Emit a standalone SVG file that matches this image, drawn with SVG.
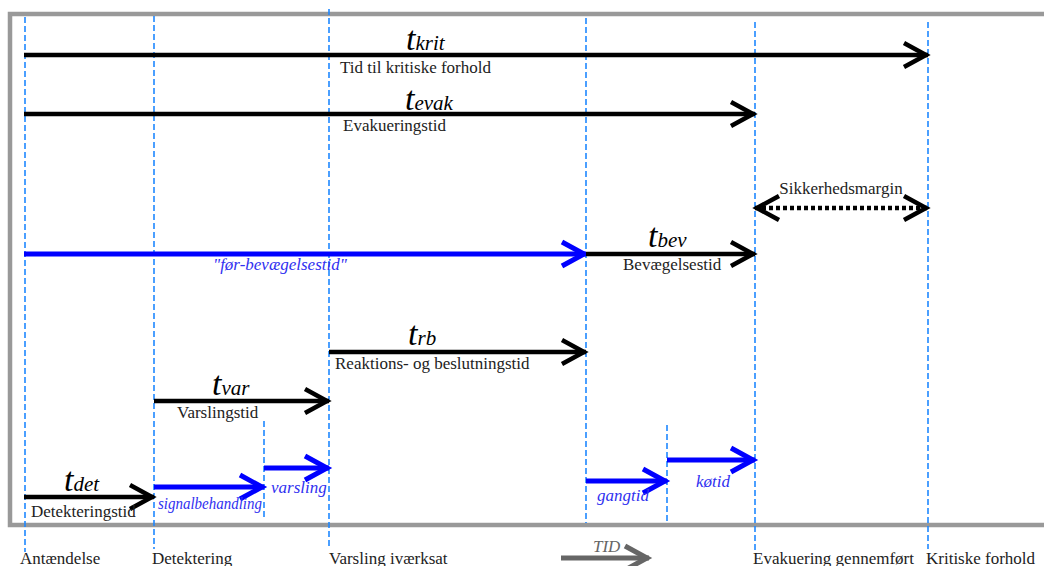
<svg xmlns="http://www.w3.org/2000/svg" width="1044" height="566" viewBox="0 0 1044 566">
<style>
.frame{fill:none;stroke:#999;stroke-width:4.5}
.vl{stroke:#1e88ff;stroke-width:1.6;stroke-dasharray:6 3;fill:none}
.blk{stroke:#000;stroke-width:4.5;fill:none;marker-end:url(#hk)}
.blu{stroke:#0000ff;stroke-width:5;fill:none;marker-end:url(#hb)}
.gry{stroke:#666;stroke-width:5;fill:none;marker-end:url(#hg)}
.dot{stroke:#000;stroke-width:4.5;stroke-dasharray:4 3;fill:none;marker-end:url(#hk);marker-start:url(#hk)}
.lbl{font-family:"Liberation Serif",serif;font-size:17px;fill:#222}
.big{font-family:"Liberation Serif",serif;font-style:italic;font-size:34px;fill:#000}
.sub{font-size:21px}
.bl{font-family:"Liberation Serif",serif;font-style:italic;font-size:17px;fill:#3030f0}
.gl{font-family:"Liberation Serif",serif;font-style:italic;font-size:17px;fill:#666}
</style>
<defs>
<marker id="hk" markerUnits="userSpaceOnUse" markerWidth="40" markerHeight="40" refX="0" refY="0" orient="auto-start-reverse" viewBox="-30 -20 40 40" overflow="visible">
<path d="M-24,-12 L-2,0 L-24,12" fill="none" stroke="#000" stroke-width="4.5"/>
</marker>
<marker id="hb" markerUnits="userSpaceOnUse" markerWidth="40" markerHeight="40" refX="0" refY="0" orient="auto" viewBox="-30 -20 40 40" overflow="visible">
<path d="M-24,-12 L-2,0 L-24,12" fill="none" stroke="#0000ff" stroke-width="5"/>
</marker>
<marker id="hg" markerUnits="userSpaceOnUse" markerWidth="40" markerHeight="40" refX="0" refY="0" orient="auto" viewBox="-30 -20 40 40" overflow="visible">
<path d="M-24,-12 L-2,0 L-24,12" fill="none" stroke="#666" stroke-width="5"/>
</marker>
</defs>
<rect class="frame" x="10" y="14" width="1100" height="511"/>
<g id="milestones">
<g id="m-antaendelse"><line class="vl" x1="25" y1="17" x2="25" y2="552"/><text class="lbl" x="20" y="564">Antændelse</text></g>
<g id="m-detektering"><line class="vl" x1="154" y1="16" x2="154" y2="549"/><text class="lbl" x="152" y="564">Detektering</text></g>
<g id="m-signal"><line class="vl" x1="264" y1="421" x2="264" y2="520"/></g>
<g id="m-varsling"><line class="vl" x1="329" y1="9" x2="329" y2="548"/><text class="lbl" x="329" y="564">Varsling iværksat</text></g>
<g id="m-bevaegelse"><line class="vl" x1="586" y1="18" x2="586" y2="523"/></g>
<g id="m-ko"><line class="vl" x1="667" y1="425" x2="667" y2="523"/></g>
<g id="m-evakuering"><line class="vl" x1="755" y1="22" x2="755" y2="550"/><text class="lbl" x="753" y="564">Evakuering gennemført</text></g>
<g id="m-kritisk"><line class="vl" x1="928" y1="22" x2="928" y2="549"/><text class="lbl" x="926" y="564">Kritiske forhold</text></g>
</g>
<g id="connectors">
<g id="a-krit"><line class="blk" x1="24" y1="55" x2="928" y2="55"/><text class="big" x="406" y="50">t<tspan class="sub">krit</tspan></text><text class="lbl" x="340" y="73">Tid til kritiske forhold</text></g>
<g id="a-evak"><line class="blk" x1="24" y1="114" x2="755" y2="114"/><text class="big" x="405" y="110">t<tspan class="sub">evak</tspan></text><text class="lbl" x="343" y="131">Evakueringstid</text></g>
<g id="a-margin"><line class="dot" x1="755" y1="208" x2="928" y2="208"/><text class="lbl" x="841" y="194" text-anchor="middle">Sikkerhedsmargin</text></g>
<g id="a-forbev"><line class="blu" x1="24" y1="254" x2="586" y2="254"/><text class="bl" x="213" y="270">"før-bevægelsestid"</text></g>
<g id="a-bev"><line class="blk" x1="586" y1="254" x2="755" y2="254"/><text class="big" x="648" y="247">t<tspan class="sub">bev</tspan></text><text class="lbl" x="623" y="270">Bevægelsestid</text></g>
<g id="a-rb"><line class="blk" x1="329" y1="352" x2="586" y2="352"/><text class="big" x="408" y="345">t<tspan class="sub">rb</tspan></text><text class="lbl" x="335" y="369">Reaktions- og beslutningstid</text></g>
<g id="a-var"><line class="blk" x1="154" y1="401" x2="329" y2="401"/><text class="big" x="212" y="395">t<tspan class="sub">var</tspan></text><text class="lbl" x="177" y="418">Varslingstid</text></g>
<g id="a-det"><line class="blk" x1="24" y1="497" x2="154" y2="497"/><text class="big" x="64" y="491">t<tspan class="sub">det</tspan></text><text class="lbl" x="31" y="517">Detekteringstid</text></g>
<g id="a-signal"><line class="blu" x1="154" y1="487" x2="264" y2="487"/><text class="bl" x="158" y="509" font-size="14" textLength="104" lengthAdjust="spacingAndGlyphs">signalbehandling</text></g>
<g id="a-varsling"><line class="blu" x1="264" y1="468" x2="329" y2="468"/><text class="bl" x="271" y="493">varsling</text></g>
<g id="a-gang"><line class="blu" x1="586" y1="481" x2="667" y2="481"/><text class="bl" x="597" y="501">gangtid</text></g>
<g id="a-ko"><line class="blu" x1="667" y1="460" x2="755" y2="460"/><text class="bl" x="696" y="487">køtid</text></g>
<g id="a-tid"><line class="gry" x1="561" y1="558" x2="649" y2="558"/><text class="gl" x="593" y="552">TID</text></g>
</g>
</svg>
